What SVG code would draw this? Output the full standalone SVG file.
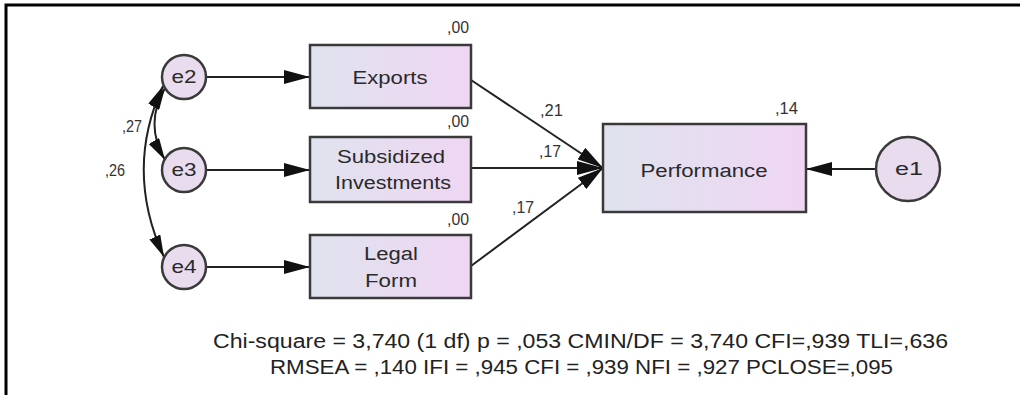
<svg xmlns="http://www.w3.org/2000/svg" width="1020" height="395" viewBox="0 0 1020 395">
  <defs>
    <linearGradient id="boxFill" x1="0" y1="0" x2="1" y2="0">
      <stop offset="0" stop-color="#dfe3ee"/>
      <stop offset="1" stop-color="#efd6f3"/>
    </linearGradient>
    <marker id="arrBig" viewBox="0 0 10 10" preserveAspectRatio="none" refX="10" refY="5" markerWidth="26" markerHeight="14" markerUnits="userSpaceOnUse" orient="auto">
      <path d="M0,0 L10,5 L0,10 z" fill="#111"/>
    </marker>
    <marker id="arrCov" viewBox="0 0 10 10" preserveAspectRatio="none" refX="10" refY="5" markerWidth="22" markerHeight="12" markerUnits="userSpaceOnUse" orient="auto-start-reverse">
      <path d="M0,0 L10,5 L0,10 z" fill="#111"/>
    </marker>
  </defs>
  <style>
    .box { fill: url(#boxFill); stroke: #3a3a3a; stroke-width: 2.5; }
    .err { fill: #e9dcef; stroke: #3a3a3a; stroke-width: 2.5; }
    .lbl { font-family: "Liberation Sans", Arial, sans-serif; font-size: 18px; fill: #2a2a2a; text-anchor: middle; }
    .num { font-family: "Liberation Sans", Arial, sans-serif; font-size: 16px; fill: #333; }
    .fit { font-family: "Liberation Sans", Arial, sans-serif; font-size: 20px; fill: #222; }
    .path { fill: none; stroke: #222; stroke-width: 2; }
  </style>

  <rect width="1020" height="395" fill="#fff"/>
  <!-- frame -->
  <path d="M6,395 L6,5 L1020,5" fill="none" stroke="#000" stroke-width="3"/>

  <!-- connectors -->
  <g id="connectors">
    <line class="path" x1="206" y1="77" x2="310" y2="77" marker-end="url(#arrBig)"/>
    <line class="path" x1="206" y1="170" x2="310" y2="170" marker-end="url(#arrBig)"/>
    <line class="path" x1="206" y1="267" x2="310" y2="267" marker-end="url(#arrBig)"/>
    <line class="path" x1="471" y1="80" x2="603" y2="168" marker-end="url(#arrBig)"/>
    <line class="path" x1="471" y1="168" x2="603" y2="168" marker-end="url(#arrBig)"/>
    <line class="path" x1="471" y1="266" x2="603" y2="168" marker-end="url(#arrBig)"/>
    <line class="path" x1="876" y1="169" x2="806" y2="169" marker-end="url(#arrBig)"/>
    <path class="path" d="M165,88 Q144,124 165,160" marker-start="url(#arrCov)" marker-end="url(#arrCov)"/>
    <path class="path" d="M163,86 Q124,170 164,257" marker-start="url(#arrCov)" marker-end="url(#arrCov)"/>
    <text class="num" x="122" y="132" textLength="20" lengthAdjust="spacingAndGlyphs">,27</text>
    <text class="num" x="105" y="176" textLength="20" lengthAdjust="spacingAndGlyphs">,26</text>
    <text class="num" x="540" y="116" textLength="23" lengthAdjust="spacingAndGlyphs">,21</text>
    <text class="num" x="539" y="157" textLength="22" lengthAdjust="spacingAndGlyphs">,17</text>
    <text class="num" x="512" y="213" textLength="22" lengthAdjust="spacingAndGlyphs">,17</text>
  </g>

  <g id="e2">
    <circle class="err" cx="184" cy="77" r="22"/>
    <text class="lbl" x="184" y="83" textLength="25" lengthAdjust="spacingAndGlyphs">e2</text>
  </g>
  <g id="e3">
    <circle class="err" cx="184" cy="170" r="22"/>
    <text class="lbl" x="184" y="176" textLength="25" lengthAdjust="spacingAndGlyphs">e3</text>
  </g>
  <g id="e4">
    <circle class="err" cx="184" cy="267" r="22"/>
    <text class="lbl" x="184" y="273" textLength="25" lengthAdjust="spacingAndGlyphs">e4</text>
  </g>

  <g id="exports">
    <rect class="box" x="310" y="45" width="161" height="63"/>
    <text class="lbl" x="390" y="84" textLength="75" lengthAdjust="spacingAndGlyphs">Exports</text>
    <text class="num" x="447" y="33" textLength="22" lengthAdjust="spacingAndGlyphs">,00</text>
  </g>
  <g id="subsidized">
    <rect class="box" x="310" y="137" width="161" height="65"/>
    <text class="lbl" x="391" y="163" textLength="108" lengthAdjust="spacingAndGlyphs">Subsidized</text>
    <text class="lbl" x="393" y="189" textLength="116" lengthAdjust="spacingAndGlyphs">Investments</text>
    <text class="num" x="447" y="127" textLength="22" lengthAdjust="spacingAndGlyphs">,00</text>
  </g>
  <g id="legal">
    <rect class="box" x="310" y="235" width="161" height="63"/>
    <text class="lbl" x="391" y="260" textLength="54" lengthAdjust="spacingAndGlyphs">Legal</text>
    <text class="lbl" x="391" y="287" textLength="52" lengthAdjust="spacingAndGlyphs">Form</text>
    <text class="num" x="447" y="225" textLength="22" lengthAdjust="spacingAndGlyphs">,00</text>
  </g>

  <g id="performance">
    <rect class="box" x="603" y="124" width="203" height="88"/>
    <text class="lbl" x="704" y="177" textLength="127" lengthAdjust="spacingAndGlyphs">Performance</text>
    <text class="num" x="775" y="114" textLength="23" lengthAdjust="spacingAndGlyphs">,14</text>
  </g>

  <g id="e1">
    <circle class="err" cx="908" cy="169" r="32"/>
    <text class="lbl" x="909" y="175" textLength="28" lengthAdjust="spacingAndGlyphs">e1</text>
  </g>

  <g id="fit">
    <text class="fit" x="213" y="348" textLength="735" lengthAdjust="spacingAndGlyphs">Chi-square = 3,740 (1 df) p = ,053 CMIN/DF = 3,740 CFI=,939 TLI=,636</text>
    <text class="fit" x="270" y="374" textLength="623" lengthAdjust="spacingAndGlyphs">RMSEA = ,140 IFI = ,945 CFI = ,939 NFI = ,927 PCLOSE=,095</text>
  </g>
</svg>
